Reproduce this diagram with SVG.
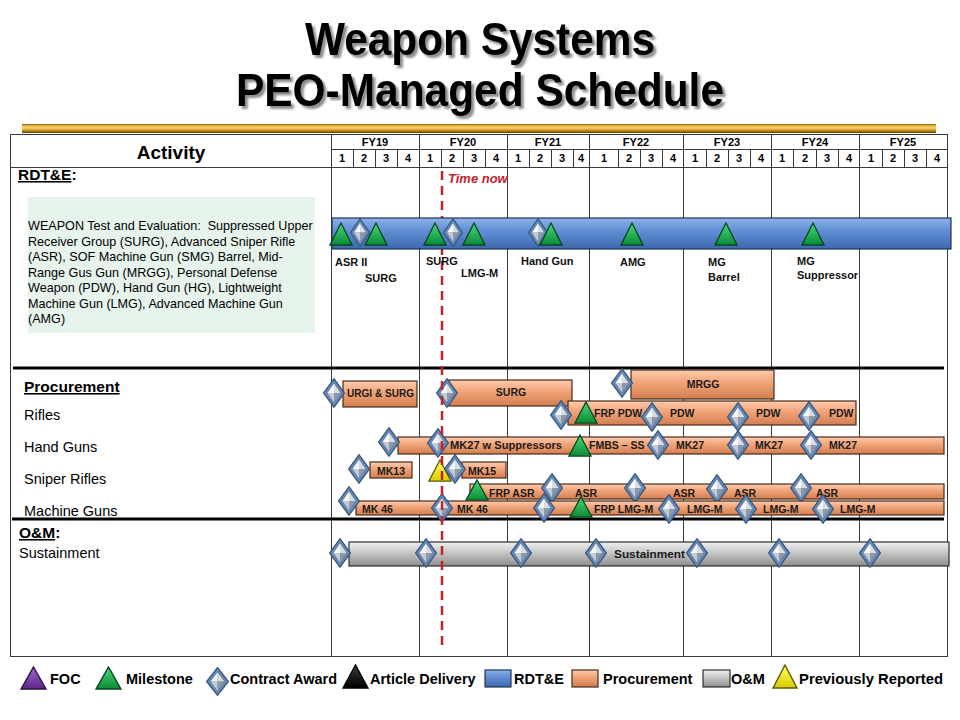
<svg xmlns="http://www.w3.org/2000/svg" xmlns:xlink="http://www.w3.org/1999/xlink" width="960" height="720" viewBox="0 0 960 720">
  <defs>
    <style>
      text { font-family: "Liberation Sans", Arial, sans-serif; fill: #000; }
      .title { font-size: 46px; font-weight: bold; text-anchor: middle; }
      .hdr { font-size: 11px; font-weight: bold; text-anchor: middle; }
      .grid { stroke: #3a3a3a; stroke-width: 1; fill: none; }
      .sect { stroke: #000; stroke-width: 3; }
      .sec-title { font-size: 15.5px; font-weight: bold; }
      .row { font-size: 14.5px; }
      .desc { font-size: 12.6px; }
      .ms { font-size: 11px; font-weight: bold; fill: #111; }
      .bl { font-size: 10.5px; font-weight: bold; fill: #1a1a1a; }
      .leg { font-size: 14.5px; font-weight: bold; }
      .bar-blue { fill: url(#gBlue); stroke: #1e3458; stroke-width: 1.2; }
      .bar-orange { fill: url(#gOrange); stroke: #4a2a18; stroke-width: 1.2; }
      .bar-grey { fill: url(#gGrey); stroke: #2e2e2e; stroke-width: 1.2; }
      .now { stroke: #c4232b; stroke-width: 2.5; stroke-dasharray: 9 6; }
    </style>

    <linearGradient id="gGold" x1="0" y1="0" x2="0" y2="1">
      <stop offset="0" stop-color="#7a5410"/>
      <stop offset="0.18" stop-color="#e6b53a"/>
      <stop offset="0.45" stop-color="#f7d46c"/>
      <stop offset="0.72" stop-color="#c88d18"/>
      <stop offset="1" stop-color="#5e3f06"/>
    </linearGradient>
    <linearGradient id="gBlue" x1="0" y1="0" x2="0" y2="1">
      <stop offset="0" stop-color="#8db3e8"/>
      <stop offset="0.35" stop-color="#6694d8"/>
      <stop offset="1" stop-color="#3d68ae"/>
    </linearGradient>
    <linearGradient id="gOrange" x1="0" y1="0" x2="0" y2="1">
      <stop offset="0" stop-color="#fbcdb0"/>
      <stop offset="0.4" stop-color="#f3a67c"/>
      <stop offset="1" stop-color="#d27e50"/>
    </linearGradient>
    <linearGradient id="gGrey" x1="0" y1="0" x2="0" y2="1">
      <stop offset="0" stop-color="#f0f0f0"/>
      <stop offset="0.4" stop-color="#cbcbcb"/>
      <stop offset="1" stop-color="#8e8e8e"/>
    </linearGradient>
    <linearGradient id="gGreen" x1="0" y1="0" x2="0" y2="1">
      <stop offset="0" stop-color="#47d978"/>
      <stop offset="1" stop-color="#0b8a36"/>
    </linearGradient>
    <linearGradient id="gYellow" x1="0" y1="0" x2="0" y2="1">
      <stop offset="0" stop-color="#ffff66"/>
      <stop offset="1" stop-color="#d9cc00"/>
    </linearGradient>
    <linearGradient id="gPurple" x1="0" y1="0" x2="0" y2="1">
      <stop offset="0" stop-color="#a46ad0"/>
      <stop offset="1" stop-color="#5a2688"/>
    </linearGradient>
    <linearGradient id="gBlack" x1="0" y1="0" x2="0" y2="1">
      <stop offset="0" stop-color="#3a3a3a"/>
      <stop offset="1" stop-color="#000"/>
    </linearGradient>

    <!-- soft grey drop shadow behind the heading -->
    <filter id="shadow" x="-5%" y="-20%" width="112%" height="150%">
      <feGaussianBlur in="SourceAlpha" stdDeviation="1"/>
      <feOffset dx="3" dy="3"/>
      <feComponentTransfer>
        <feFuncA type="linear" slope="0.45"/>
      </feComponentTransfer>
      <feMerge>
        <feMergeNode/>
        <feMergeNode in="SourceGraphic"/>
      </feMerge>
    </filter>

    <!-- contract award: bevelled diamond -->
    <symbol id="dia" viewBox="-11 -15 22 30" preserveAspectRatio="none">
      <polygon points="0,-14.3 10.4,0 0,14.3 -10.4,0" fill="#6586b0" stroke="#34547c" stroke-width="1.2"/>
      <polygon points="-6.5,0 0,-9.5 0,0" fill="#f6f8fa"/>
      <polygon points="0,-9.5 6.5,0 0,0" fill="#d8dde4"/>
      <polygon points="6.5,0 0,9.5 0,0" fill="#8d98a8"/>
      <polygon points="0,9.5 -6.5,0 0,0" fill="#c3cad3"/>
    </symbol>
    <!-- milestone / delivery triangles -->
    <symbol id="triG" viewBox="0 0 24 24" preserveAspectRatio="none">
      <polygon points="12,1 23,23 1,23" fill="url(#gGreen)" stroke="#08461f" stroke-width="1.3"/>
    </symbol>
    <symbol id="triY" viewBox="0 0 24 24" preserveAspectRatio="none">
      <polygon points="12,1 23,23 1,23" fill="url(#gYellow)" stroke="#5e5800" stroke-width="1.3"/>
    </symbol>
    <symbol id="triP" viewBox="0 0 24 24" preserveAspectRatio="none">
      <polygon points="12,1 23,23 1,23" fill="url(#gPurple)" stroke="#2e1048" stroke-width="1.3"/>
    </symbol>
    <symbol id="triK" viewBox="0 0 24 24" preserveAspectRatio="none">
      <polygon points="12,1 23,23 1,23" fill="url(#gBlack)" stroke="#000" stroke-width="1.3"/>
    </symbol>
  </defs>

  <rect width="960" height="720" fill="#fff"/>

  <!-- heading -->
  <g id="title">
    <g filter="url(#shadow)">
      <text class="title" x="480" y="55" textLength="350" lengthAdjust="spacingAndGlyphs">Weapon Systems</text>
      <text class="title" x="480" y="106" textLength="488" lengthAdjust="spacingAndGlyphs">PEO-Managed Schedule</text>
    </g>
    <rect x="22" y="124" width="914" height="9" fill="url(#gGold)"/>
  </g>

  <!-- table frame and time grid -->
  <g id="grid">
    <rect class="grid" x="10.5" y="134.5" width="937" height="522"/>
    <line class="grid" x1="331.5" y1="134" x2="331.5" y2="657"/>
    <line class="grid" x1="331" y1="149.5" x2="948" y2="149.5"/>
    <line class="grid" x1="10" y1="167.5" x2="948" y2="167.5"/>
    <g class="grid">
      <line x1="419.5" y1="134" x2="419.5" y2="657"/>
      <line x1="507.5" y1="134" x2="507.5" y2="657"/>
      <line x1="589.5" y1="134" x2="589.5" y2="657"/>
      <line x1="683.5" y1="134" x2="683.5" y2="657"/>
      <line x1="771.5" y1="134" x2="771.5" y2="657"/>
      <line x1="859.5" y1="134" x2="859.5" y2="657"/>
      <path d="M353.5 149V167M375.5 149V167M397.5 149V167M441.5 149V167M463.5 149V167M485.5 149V167M529.5 149V167M551.5 149V167M573.5 149V167M618.5 149V167M640.5 149V167M662.5 149V167M706.5 149V167M728.5 149V167M750.5 149V167M793.5 149V167M816.5 149V167M838.5 149V167M882.5 149V167M904.5 149V167M926.5 149V167"/>
    </g>
    <line class="sect" x1="13" y1="368" x2="944" y2="368"/>
    <line class="sect" x1="12" y1="519" x2="944" y2="519"/>

    <text x="171" y="158.5" style="font-size:19px;font-weight:bold" text-anchor="middle">Activity</text>
    <text class="hdr" x="375" y="146">FY19</text>
    <text class="hdr" x="463" y="146">FY20</text>
    <text class="hdr" x="548" y="146">FY21</text>
    <text class="hdr" x="636" y="146">FY22</text>
    <text class="hdr" x="727" y="146">FY23</text>
    <text class="hdr" x="815" y="146">FY24</text>
    <text class="hdr" x="903" y="146">FY25</text>
    <g class="hdr">
      <text class="hdr" x="342" y="162">1</text><text class="hdr" x="364" y="162">2</text><text class="hdr" x="386" y="162">3</text><text class="hdr" x="408" y="162">4</text>
      <text class="hdr" x="430" y="162">1</text><text class="hdr" x="452" y="162">2</text><text class="hdr" x="474" y="162">3</text><text class="hdr" x="496" y="162">4</text>
      <text class="hdr" x="518" y="162">1</text><text class="hdr" x="540" y="162">2</text><text class="hdr" x="562" y="162">3</text><text class="hdr" x="581" y="162">4</text>
      <text class="hdr" x="604" y="162">1</text><text class="hdr" x="629" y="162">2</text><text class="hdr" x="651" y="162">3</text><text class="hdr" x="673" y="162">4</text>
      <text class="hdr" x="695" y="162">1</text><text class="hdr" x="717" y="162">2</text><text class="hdr" x="739" y="162">3</text><text class="hdr" x="761" y="162">4</text>
      <text class="hdr" x="782" y="162">1</text><text class="hdr" x="805" y="162">2</text><text class="hdr" x="827" y="162">3</text><text class="hdr" x="849" y="162">4</text>
      <text class="hdr" x="871" y="162">1</text><text class="hdr" x="893" y="162">2</text><text class="hdr" x="915" y="162">3</text><text class="hdr" x="937" y="162">4</text>
    </g>
  </g>

  <!-- activity labels -->
  <g id="labels">
    <text class="sec-title" x="18" y="180"><tspan text-decoration="underline">RDT&amp;E</tspan>:</text>
    <rect x="28" y="197" width="287" height="136" fill="#e6f4ec"/>
    <text class="desc" x="28" y="230" xml:space="preserve">WEAPON Test and Evaluation:  Suppressed Upper</text>
    <text class="desc" x="28" y="245.5">Receiver Group (SURG), Advanced Sniper Rifle</text>
    <text class="desc" x="28" y="261">(ASR), SOF Machine Gun (SMG) Barrel, Mid-</text>
    <text class="desc" x="28" y="276.5">Range Gus Gun (MRGG), Personal Defense</text>
    <text class="desc" x="28" y="292">Weapon (PDW), Hand Gun (HG), Lightweight</text>
    <text class="desc" x="28" y="307.5">Machine Gun (LMG), Advanced Machine Gun</text>
    <text class="desc" x="28" y="323">(AMG)</text>

    <text class="sec-title" x="24" y="392" text-decoration="underline">Procurement</text>
    <text class="row" x="24" y="420">Rifles</text>
    <text class="row" x="24" y="452">Hand Guns</text>
    <text class="row" x="24" y="484">Sniper Rifles</text>
    <text class="row" x="24" y="516">Machine Guns</text>

    <text class="sec-title" x="19" y="538"><tspan text-decoration="underline">O&amp;M</tspan>:</text>
    <text class="row" x="19" y="558">Sustainment</text>
  </g>

  <!-- procurement schedule -->
  <g id="procurement">
    <g id="proc-surg-1">
      <rect class="bar-orange" x="343" y="381" width="74" height="26"/>
      <text class="bl" x="347" y="397" textLength="67" lengthAdjust="spacingAndGlyphs">URGI &amp; SURG</text>
      <use href="#dia" x="323" y="378" width="22" height="30"/>
    </g>
    <g id="proc-surg-2">
      <rect class="bar-orange" x="449" y="380" width="123" height="26"/>
      <text class="bl" x="511" y="396" text-anchor="middle">SURG</text>
      <use href="#dia" x="436" y="378" width="22" height="30"/>
    </g>
    <g id="proc-mrgg">
      <rect class="bar-orange" x="631" y="370" width="143" height="29"/>
      <text class="bl" x="703" y="388" text-anchor="middle">MRGG</text>
      <use href="#dia" x="611" y="368" width="22" height="30"/>
    </g>
    <g id="proc-rifles">
      <rect class="bar-orange" x="568" y="401" width="288" height="24"/>
      <text class="bl" x="594" y="417">FRP PDW</text>
      <text class="bl" x="670" y="417">PDW</text>
      <text class="bl" x="756" y="417">PDW</text>
      <text class="bl" x="829" y="417">PDW</text>
      <use href="#dia" x="550" y="400" width="22" height="30"/>
      <use href="#triG" x="574" y="401" width="24" height="23"/>
      <use href="#dia" x="641" y="402" width="22" height="30"/>
      <use href="#dia" x="727" y="402" width="22" height="30"/>
      <use href="#dia" x="798" y="401" width="22" height="30"/>
    </g>
    <g id="proc-handguns">
      <rect class="bar-orange" x="398" y="437" width="546" height="17"/>
      <text class="bl" x="450" y="449" textLength="112" lengthAdjust="spacingAndGlyphs">MK27 w Suppressors</text>
      <text class="bl" x="589" y="449">FMBS – SS</text>
      <text class="bl" x="676" y="449">MK27</text>
      <text class="bl" x="755" y="449">MK27</text>
      <text class="bl" x="829" y="449">MK27</text>
      <use href="#dia" x="378" y="427" width="22" height="30"/>
      <use href="#dia" x="427" y="428" width="22" height="30"/>
      <use href="#triG" x="568" y="434" width="24" height="23"/>
      <use href="#dia" x="647" y="430" width="22" height="30"/>
      <use href="#dia" x="727" y="430" width="22" height="30"/>
      <use href="#dia" x="800" y="430" width="22" height="30"/>
    </g>
    <g id="proc-sniper">
      <rect class="bar-orange" x="370" y="462" width="42" height="16"/>
      <text class="bl" x="377" y="475">MK13</text>
      <rect class="bar-orange" x="462" y="462" width="44" height="16"/>
      <text class="bl" x="468" y="475">MK15</text>
      <use href="#dia" x="348" y="454" width="22" height="30"/>
      <use href="#triY" x="428" y="459" width="24" height="23"/>
      <use href="#dia" x="444" y="454" width="22" height="30"/>
    </g>
    <g id="proc-asr">
      <rect class="bar-orange" x="470" y="484" width="474" height="15"/>
      <text class="bl" x="489" y="497">FRP ASR</text>
      <text class="bl" x="575" y="497">ASR</text>
      <text class="bl" x="673" y="497">ASR</text>
      <text class="bl" x="734" y="497">ASR</text>
      <text class="bl" x="816" y="497">ASR</text>
      <use href="#triG" x="465" y="479" width="24" height="22"/>
      <use href="#dia" x="541" y="473" width="22" height="30"/>
      <use href="#dia" x="624" y="473" width="22" height="30"/>
      <use href="#dia" x="706" y="474" width="22" height="30"/>
      <use href="#dia" x="790" y="473" width="22" height="30"/>
    </g>
    <g id="proc-mg">
      <rect class="bar-orange" x="356" y="501" width="588" height="14"/>
      <text class="bl" x="362" y="513">MK 46</text>
      <text class="bl" x="457" y="513">MK 46</text>
      <text class="bl" x="594" y="513">FRP LMG-M</text>
      <text class="bl" x="687" y="513">LMG-M</text>
      <text class="bl" x="763" y="513">LMG-M</text>
      <text class="bl" x="840" y="513">LMG-M</text>
      <use href="#dia" x="338" y="486" width="22" height="30"/>
      <use href="#dia" x="431" y="493" width="22" height="30"/>
      <use href="#dia" x="533" y="493" width="22" height="30"/>
      <use href="#triG" x="569" y="496" width="24" height="22"/>
      <use href="#dia" x="658" y="494" width="22" height="30"/>
      <use href="#dia" x="735" y="494" width="22" height="30"/>
      <use href="#dia" x="812" y="494" width="22" height="30"/>
    </g>
  </g>

  <!-- operations and maintenance -->
  <g id="sustainment">
    <rect class="bar-grey" x="349" y="542" width="600" height="24"/>
    <text class="bl" x="614" y="558" textLength="71" lengthAdjust="spacingAndGlyphs" style="font-size:11.5px">Sustainment</text>
    <use href="#dia" x="329" y="538" width="22" height="30"/>
    <use href="#dia" x="415" y="538" width="22" height="30"/>
    <use href="#dia" x="510" y="538" width="22" height="30"/>
    <use href="#dia" x="585" y="538" width="22" height="30"/>
    <use href="#dia" x="686" y="538" width="22" height="30"/>
    <use href="#dia" x="768" y="538" width="22" height="30"/>
    <use href="#dia" x="859" y="538" width="22" height="30"/>
  </g>

  <!-- current date marker -->
  <g id="time-now">
    <line class="now" x1="442" y1="171" x2="442" y2="650"/>
    <text x="448" y="183" style="font-size:13px;font-weight:bold;font-style:italic;fill:#c4232b">Time now</text>
  </g>

  <!-- test and evaluation schedule -->
  <g id="rdte">
    <rect class="bar-blue" x="332" y="218" width="619" height="31"/>
    <use href="#triG" x="329" y="222" width="24" height="24"/>
    <use href="#triG" x="364" y="222" width="24" height="24"/>
    <use href="#dia" x="350" y="218" width="20" height="29"/>
    <use href="#triG" x="423" y="222" width="24" height="24"/>
    <use href="#triG" x="462" y="222" width="24" height="24"/>
    <use href="#dia" x="443" y="218" width="20" height="29"/>
    <use href="#dia" x="528" y="218" width="20" height="29"/>
    <use href="#triG" x="539" y="222" width="24" height="24"/>
    <use href="#triG" x="620" y="222" width="24" height="24"/>
    <use href="#triG" x="714" y="222" width="24" height="24"/>
    <use href="#triG" x="801" y="222" width="24" height="24"/>
    <text class="ms" x="335" y="266">ASR II</text>
    <text class="ms" x="365" y="282">SURG</text>
    <text class="ms" x="426" y="265">SURG</text>
    <text class="ms" x="461" y="277">LMG-M</text>
    <text class="ms" x="521" y="265">Hand Gun</text>
    <text class="ms" x="620" y="266">AMG</text>
    <text class="ms" x="708" y="266">MG</text>
    <text class="ms" x="708" y="281">Barrel</text>
    <text class="ms" x="797" y="265">MG</text>
    <text class="ms" x="797" y="279">Suppressor</text>
  </g>

  <!-- key -->
  <g id="legend">
    <use href="#triP" x="20" y="666" width="27" height="24"/>
    <text class="leg" x="50" y="684">FOC</text>
    <use href="#triG" x="95" y="666" width="27" height="24"/>
    <text class="leg" x="126" y="684">Milestone</text>
    <use href="#dia" x="206" y="667" width="23" height="29"/>
    <text class="leg" x="230" y="684" textLength="107" lengthAdjust="spacingAndGlyphs">Contract Award</text>
    <use href="#triK" x="342" y="664" width="27" height="25"/>
    <text class="leg" x="370" y="684">Article Delivery</text>
    <rect class="bar-blue" x="485" y="670" width="26" height="17"/>
    <text class="leg" x="514" y="684">RDT&amp;E</text>
    <rect class="bar-orange" x="572" y="670" width="26" height="17"/>
    <text class="leg" x="603" y="684">Procurement</text>
    <rect class="bar-grey" x="703" y="670" width="27" height="17"/>
    <text class="leg" x="731" y="684">O&amp;M</text>
    <use href="#triY" x="772" y="664" width="26" height="25"/>
    <text class="leg" x="799" y="684" textLength="144" lengthAdjust="spacingAndGlyphs">Previously Reported</text>
  </g>
</svg>
